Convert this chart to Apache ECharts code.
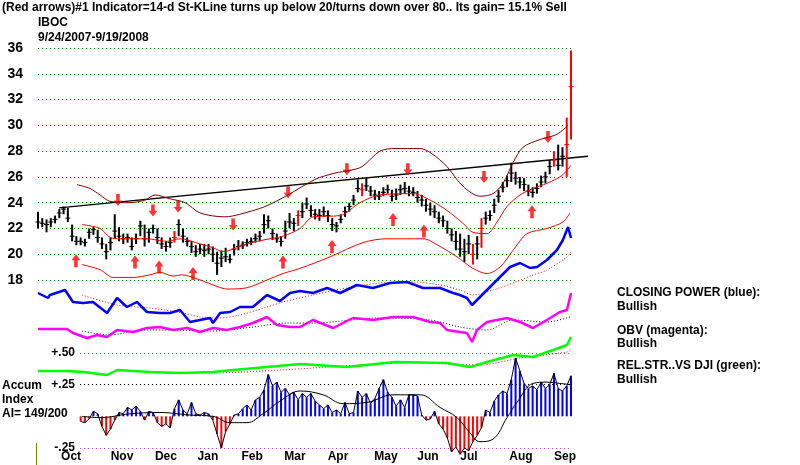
<!DOCTYPE html>
<html>
<head>
<meta charset="utf-8">
<title>IBOC</title>
<script src="https://cdn.jsdelivr.net/npm/echarts@6/dist/echarts.min.js"></script>
<style>
  html, body { margin: 0; padding: 0; background: #fff; }
  #chart { width: 800px; height: 465px; }
</style>
</head>
<body>
<div id="chart"></div>
<script>
// price bars, one every 2 trading days (day = 2 * i), 9/24/2007 .. 9/19/2008
const closes = [22.5, 22.4, 22.3, 22.5, 22.7, 23.2, 23.5, 22.8, 21.4, 21.0, 21.0, 20.9, 21.7, 21.9, 21.3, 20.8, 20.2, 20.9, 21.8, 21.4,
  21.2, 21.3, 20.6, 21.2, 22.2, 21.2, 21.7, 22.0, 21.3, 20.8, 20.6, 20.9, 21.3, 22.3, 21.4, 21.0, 20.6, 20.2, 20.4, 20.3,
  20.4, 20.0, 19.3, 19.7, 19.8, 19.6, 20.4, 20.6, 20.7, 20.9, 21.0, 21.2, 21.4, 22.3, 22.6, 21.6, 21.2, 21.0, 21.8, 22.5,
  22.4, 23.0, 23.3, 23.9, 23.4, 23.1, 23.0, 23.3, 23.0, 22.3, 22.2, 22.7, 23.3, 23.7, 24.2, 25.1, 25.0, 25.3, 24.9, 24.6,
  24.5, 24.8, 25.0, 24.5, 24.6, 25.0, 25.1, 24.9, 24.8, 24.4, 24.2, 23.8, 23.5, 23.3, 22.8, 22.6, 22.0, 21.5, 21.0, 20.4,
  20.2, 20.8, 20.0, 20.8, 22.0, 22.8, 23.0, 23.8, 24.5, 25.2, 25.7, 26.3, 25.9, 25.6, 25.4, 24.9, 24.8, 25.1, 25.6, 26.0,
  26.8, 27.3, 26.9, 27.6, 28.5, 33.0]
const highs = [23.3, 22.8, 22.7, 22.8, 23.0, 23.5, 23.7, 23.6, 22.3, 21.4, 21.3, 21.2, 22.0, 22.1, 21.9, 21.3, 20.8, 21.3, 23.1, 22.1,
  21.6, 21.6, 21.3, 21.6, 22.6, 22.3, 22.0, 22.3, 22.0, 21.3, 21.0, 21.3, 21.8, 22.7, 22.0, 21.3, 21.0, 20.7, 20.8, 20.8,
  20.8, 20.6, 20.2, 20.3, 20.5, 20.0, 20.8, 21.1, 21.0, 21.2, 21.3, 21.6, 21.8, 23.1, 23.0, 22.0, 21.6, 21.4, 22.6, 23.2,
  22.8, 23.4, 24.0, 24.4, 23.8, 23.5, 23.5, 23.7, 23.4, 22.8, 22.5, 23.1, 23.7, 24.0, 24.6, 25.8, 25.5, 25.9, 25.3, 25.0,
  24.9, 25.2, 25.4, 25.0, 25.1, 25.4, 25.6, 25.3, 25.2, 24.9, 24.6, 24.3, 24.0, 23.8, 23.3, 23.0, 22.6, 22.0, 21.8, 21.6,
  21.2, 21.5, 20.8, 21.4, 22.8, 23.3, 23.4, 24.3, 25.0, 25.6, 26.1, 27.1, 26.4, 26.0, 25.9, 25.4, 25.2, 25.5, 26.1, 26.4,
  27.3, 28.0, 28.5, 28.3, 30.6, 35.8]
const lows = [22.0, 22.1, 21.7, 22.1, 22.4, 22.8, 23.1, 22.5, 21.0, 20.7, 20.7, 20.6, 21.2, 21.5, 20.9, 20.4, 19.6, 20.3, 21.2, 21.0,
  20.8, 20.9, 20.3, 20.8, 21.4, 20.6, 20.9, 21.6, 20.8, 20.4, 20.2, 20.5, 20.9, 21.4, 20.9, 20.6, 20.1, 19.8, 20.0, 19.8,
  20.0, 19.4, 18.4, 19.0, 19.4, 19.3, 19.9, 20.3, 20.4, 20.6, 20.7, 20.9, 21.0, 21.6, 22.0, 21.1, 20.9, 20.6, 21.2, 22.0,
  21.8, 22.2, 22.8, 23.5, 22.9, 22.7, 22.6, 22.9, 22.5, 21.8, 21.7, 22.4, 22.9, 23.3, 23.8, 24.8, 24.5, 24.9, 24.5, 24.2,
  24.2, 24.5, 24.7, 24.1, 24.2, 24.6, 24.7, 24.5, 24.5, 24.0, 23.7, 23.3, 23.0, 22.8, 22.4, 22.1, 21.6, 21.0, 20.3, 19.8,
  19.4, 20.0, 19.2, 19.6, 20.5, 22.3, 22.6, 23.2, 24.0, 24.8, 25.2, 25.6, 25.4, 25.1, 24.9, 24.5, 24.4, 24.7, 25.2, 25.5,
  26.2, 26.8, 26.5, 26.8, 26.0, 28.9]
const redBars = [32, 61, 76, 102, 104, 121, 124, 125]

// bands and trend line, [day, price]
const upperBand = [[18.3, 25.4], [24.4, 25.1], [29.1, 24.6], [33.8, 24.1], [43.2, 24.0], [50.2, 24.2], [54.9, 24.6], [61.9, 24.3],
  [69, 24.0], [76, 23.2], [87.7, 22.9], [94.7, 23.1], [106.5, 23.7], [117.3, 24.6], [129.9, 25.8], [139.3, 26.3], [146.3, 26.5],
  [152, 26.8], [160.4, 28.0], [167.4, 28.2], [179.2, 28.2], [184.8, 27.8], [191.8, 26.8], [196.5, 25.8], [201.2, 25.0],
  [207.3, 24.5], [213.4, 24.7], [218.1, 25.5], [222.8, 27.1], [227.5, 28.3], [235.5, 28.9], [243.4, 29.3], [248.6, 30.0]]
const midLine = [[20.6, 22.3], [29.1, 22.0], [33.8, 21.3], [38.5, 21.2], [51.1, 21.2], [60.5, 21.0], [66.6, 21.2], [76, 20.8],
  [82.1, 20.5], [86.8, 20.2], [91.5, 20.4], [98, 20.8], [105.5, 21.1], [114.9, 21.4], [122.9, 22.0], [129, 22.9], [141.7, 23.0],
  [151, 24.0], [160.4, 24.6], [175.9, 24.7], [183.9, 24.2], [191.8, 23.4], [199.3, 22.4], [204, 21.7], [210.6, 21.6],
  [215.3, 22.5], [220, 23.7], [226.1, 24.6], [232.2, 25.1], [238.7, 25.5], [245.7, 26.1], [250, 26.9]]
const lowerBand = [[20.6, 19.2], [29.1, 18.8], [35.2, 18.2], [44.6, 18.2], [52.5, 18.4], [57.2, 18.6], [63.3, 18.3], [67.5, 18.4],
  [76, 18.0], [84, 17.5], [88.6, 17.3], [98, 17.4], [107.4, 18.0], [114.9, 18.5], [122.9, 18.9], [137, 19.8], [152.4, 20.9],
  [163.7, 21.2], [180.6, 21.2], [188.6, 20.6], [196.5, 19.8], [204, 18.9], [210.6, 18.5], [216.7, 19.0], [222.8, 20.3],
  [229.4, 21.6], [238.7, 22.0], [246.2, 22.5], [249.5, 23.2]]
// start day, start price, end day, end price (runs past the last bar)
const trendLine = [9.85, 23.6, 258, 27.6]

const upArrows = [[17.8, 19.5], [45.5, 19.4], [56.8, 19.0], [72.7, 18.5], [114.9, 19.4], [137.9, 20.6], [166.5, 22.7], [181, 21.8], [231.7, 23.3]]
const downArrows = [[37.5, 24.2], [53.9, 23.4], [65.7, 23.7], [91.5, 22.3], [117.3, 24.8], [144.9, 26.6], [173.5, 26.6], [209.2, 26.0], [239.2, 29.1]]

// lower panel lines (unscaled indicator units), [day, value]
const closingPower = [[0, 53.5], [4.7, 51], [5.6, 52.5], [12.7, 55], [16.4, 49], [21.1, 48.5], [25.8, 49], [32.4, 43.5], [37.1, 51],
  [41.7, 46.5], [46.4, 49], [51.1, 44], [57.2, 43.5], [61.9, 43.5], [66.6, 45], [71.3, 39], [76, 40], [80.7, 41], [82.1, 38.5],
  [85.4, 43.5], [90.1, 44], [94.7, 46.5], [100.8, 46.5], [107.4, 52.5], [113.5, 49.5], [118.2, 53.5], [122.9, 54.5], [129, 53.5],
  [135.6, 56], [141.7, 53.5], [149.6, 57.5], [157.1, 56], [165.1, 58.5], [173.1, 59], [180.6, 56], [188.6, 56], [194.7, 53.5],
  [197.9, 52.5], [201.2, 51], [203.6, 47.5], [207.3, 51.5], [212, 56.5], [215.3, 60], [221.4, 66.5], [226.1, 68.5], [230.8, 66],
  [234.1, 66.5], [238.7, 70], [243.4, 75], [246.2, 80], [248.6, 86.5], [250, 81]]
const closingPowerMa = [[20.6, 52.5], [37.1, 47.5], [52.5, 46], [68, 43.5], [76, 41.5], [84, 41], [94.7, 42.5], [107.4, 46.5],
  [114.9, 49], [129, 52.5], [144.9, 56], [160.4, 58.5], [175.9, 59], [188.6, 57.5], [197.9, 55], [204, 52.5], [213.4, 55],
  [222.8, 58.5], [232.2, 62.5], [238.7, 65], [248.1, 71.5], [250, 74]]
const obv = [[0, 35.5], [13.6, 35.5], [16.4, 33.5], [23, 31], [27.7, 32.5], [32.4, 31.5], [37.1, 35], [44.6, 34], [51.1, 36],
  [57.2, 36.5], [63.3, 35], [69.9, 36], [76, 34], [82.1, 36], [88.6, 35], [94.7, 36.5], [100.8, 38.5], [107.4, 41.5], [112.1, 37.5],
  [118.2, 36.5], [122.9, 36.5], [129, 40], [138.4, 36], [147.7, 41], [157.1, 40], [166.5, 41.5], [175.9, 41.5], [183.9, 39],
  [188.6, 38.5], [191.8, 35], [197.9, 34], [201.2, 33.5], [203.6, 29], [205.9, 35], [210.6, 39], [220, 41], [226.1, 39],
  [232.2, 36], [238.7, 40], [244.8, 44], [248.1, 45], [250, 53.5]]
const obvMa = [[20.6, 34.5], [33.8, 32.5], [49.2, 35], [65.2, 35], [82.1, 34.5], [100.8, 36.5], [116.8, 38.5], [129, 38.5],
  [160.4, 41], [183.9, 40], [197.9, 36.5], [210.6, 35], [222.8, 40], [238.7, 39], [249.5, 41.5]]
const relStrength = [[0, 14.5], [13.6, 14.5], [21.1, 14], [32.4, 12.5], [37.1, 15], [52.5, 14], [66.6, 13.5], [82.1, 14],
  [91.5, 15], [107.4, 16.5], [122.9, 18], [144.9, 16.5], [167.4, 19], [191.8, 18.5], [202.6, 16.5], [210.6, 19], [222.8, 22.5],
  [232.2, 21.5], [241.6, 25], [248.1, 27.5], [250, 31.5]]
const relStrengthMa = [[50.2, 14], [82.1, 13.5], [113.5, 15], [175.9, 18.5], [207.3, 17.5], [226.1, 21], [248.1, 24], [250, 25]]

// accumulation index, one value every 2 trading days from day 20
const aiStart = 20
const accumIndex = [-0.04, -0.05, -0.02, 0.04, 0.02, -0.08, -0.15, -0.10, -0.03, 0.03, 0.02, 0.07, 0.05, 0.08, 0.04, -0.03,
  0.04, 0.03, -0.05, -0.08, -0.06, -0.09, 0.06, 0.13, 0.05, 0.02, 0.11, 0.02, 0.01, 0.03, 0.02, -0.03, -0.14, -0.25, -0.12,
  -0.06, 0.01, 0.02, 0.06, 0.09, 0.05, 0.13, 0.15, 0.21, 0.33, 0.24, 0.27, 0.19, 0.22, 0.17, 0.19, 0.13, 0.18, 0.15, 0.18,
  0.12, 0.09, 0.06, 0.09, 0.03, 0.05, 0.02, 0.11, 0.02, 0.03, 0.20, 0.15, 0.18, 0.10, 0.14, 0.22, 0.29, 0.19, 0.15, 0.08,
  0.13, 0.07, 0.17, 0.17, 0.16, 0.01, -0.03, -0.02, 0.04, -0.06, -0.10, -0.17, -0.28, -0.24, -0.30, -0.25, -0.27, -0.20,
  -0.15, -0.09, 0.05, 0.03, 0.12, 0.17, 0.20, 0.18, 0.29, 0.46, 0.36, 0.26, 0.22, 0.24, 0.21, 0.27, 0.22, 0.25, 0.34, 0.22,
  0.20, 0.24, 0.32]
const accumIndexMa = [[20.6, 0.0], [29.1, -0.01], [43.2, 0.02], [57.2, 0.03], [71.3, 0.01], [82.1, 0.0], [90.1, -0.05],
  [98, -0.05], [105.5, 0.02], [113.5, 0.12], [122.9, 0.2], [133.7, 0.17], [143.1, 0.10], [154.3, 0.11], [166.5, 0.17],
  [179.2, 0.17], [188.6, 0.07], [196.5, -0.01], [202.6, -0.13], [207.3, -0.2], [213.4, -0.18], [220, -0.01], [224.7, 0.11],
  [232.2, 0.26], [238.7, 0.27], [244.8, 0.26], [250, 0.25]]

const monthNames = ['Oct', 'Nov', 'Dec', 'Jan', 'Feb', 'Mar', 'Apr', 'May', 'Jun', 'Jul', 'Aug', 'Sep']
const monthDays = [15.5, 39.4, 60.0, 79.7, 100.4, 120.5, 140.7, 163.2, 182.9, 202.1, 226.5, 247.2]
const aiLabels = { '0.5': '+.50', '0.25': '+.25', '-0.25': '-.25' }

const FONT = 'Liberation Sans, Arial, sans-serif'
const chart = echarts.init(document.getElementById('chart'))

const priceBars = closes.map((c, i) => [i * 2, highs[i], lows[i], c])
const aiData = accumIndex.map((v, i) => [aiStart + i * 2, v])

function lineSeries(data, axis, color, width, type, smooth) {
  return {
    type: 'line', xAxisIndex: axis, yAxisIndex: axis, data: data,
    showSymbol: false, symbol: 'none', smooth: smooth || false, clip: false, silent: true,
    lineStyle: { color: color, width: width, type: type || 'solid' }
  }
}

const option = {
  animation: false,
  backgroundColor: '#fff',
  grid: [
    { left: 38, top: 48, width: 533, height: 232 },
    { left: 38, top: 200, width: 533, height: 248 },
    { left: 80, top: 353, width: 491, height: 95 }
  ],
  xAxis: [
    { gridIndex: 0, type: 'value', min: 0, max: 250, show: false },
    {
      gridIndex: 1, type: 'value', min: 0, max: 250,
      axisLine: { show: false }, axisTick: { show: false }, splitLine: { show: false },
      axisLabel: {
        customValues: monthDays, margin: 3, color: '#000',
        fontFamily: FONT, fontWeight: 'bold', fontSize: 12,
        formatter: v => monthNames[monthDays.findIndex(m => Math.abs(m - v) < 0.01)] || ''
      }
    },
    { gridIndex: 2, type: 'value', min: 19.7, max: 250, show: false }
  ],
  yAxis: [
    {
      gridIndex: 0, type: 'value', min: 18, max: 36, interval: 2,
      axisLine: { show: false }, axisTick: { show: false },
      axisLabel: { margin: 15, color: '#000', fontFamily: FONT, fontWeight: 'bold', fontSize: 14 },
      splitLine: { lineStyle: { color: '#008000', type: [1, 3], width: 1 } }
    },
    { gridIndex: 1, type: 'value', min: -24, max: 100, show: false },
    {
      gridIndex: 2, type: 'value', min: -0.25, max: 0.5, interval: 0.25,
      axisLine: { show: false }, axisTick: { show: false },
      axisLabel: {
        margin: 5, color: '#000', fontFamily: FONT, fontWeight: 'bold', fontSize: 12,
        formatter: v => aiLabels[String(v)] || ''
      },
      splitLine: { lineStyle: { color: ['#cc33cc', 'rgba(0,0,0,0)', '#000', '#cc33cc'], type: [1, 3], width: 1 } }
    }
  ],
  series: [
    lineSeries(upperBand, 0, '#800000', 1, 'solid', 0.3),
    lineSeries(midLine, 0, '#ff0000', 1, 'solid', 0.3),
    lineSeries(lowerBand, 0, '#ff0000', 1, 'solid', 0.3),
    {
      type: 'custom', xAxisIndex: 0, yAxisIndex: 0, data: [trendLine], clip: false, silent: true,
      renderItem: (params, api) => {
        const a = api.coord([api.value(0), api.value(1)])
        const b = api.coord([api.value(2), api.value(3)])
        return { type: 'line', shape: { x1: a[0], y1: a[1], x2: b[0], y2: b[1] }, style: { stroke: '#000', lineWidth: 1.3 } }
      }
    },
    {
      type: 'custom', xAxisIndex: 0, yAxisIndex: 0, data: priceBars, clip: false, silent: true,
      renderItem: (params, api) => {
        const d = api.value(0)
        const top = api.coord([d, api.value(1)])
        const bot = api.coord([d, api.value(2)])
        const c = api.coord([d, api.value(3)])
        const color = redBars.includes(params.dataIndex) ? '#ff0000' : '#000'
        return {
          type: 'group', children: [
            { type: 'line', shape: { x1: top[0], y1: top[1], x2: bot[0], y2: bot[1] }, style: { stroke: color, lineWidth: 2 } },
            { type: 'line', shape: { x1: c[0] - 2.5, y1: c[1], x2: c[0] + 2.5, y2: c[1] }, style: { stroke: color, lineWidth: 1 } }
          ]
        }
      }
    },
    {
      type: 'scatter', xAxisIndex: 0, yAxisIndex: 0, data: upArrows, silent: true,
      symbol: 'path://M5,0L10,6L7,6L7,13L3,13L3,6L0,6Z', symbolSize: [9, 13],
      itemStyle: { color: '#ff0000' }
    },
    {
      type: 'scatter', xAxisIndex: 0, yAxisIndex: 0, data: downArrows, silent: true,
      symbol: 'path://M3,0L7,0L7,7L10,7L5,13L0,7L3,7Z', symbolSize: [9, 12],
      itemStyle: { color: '#ff0000' }
    },
    lineSeries(closingPowerMa, 1, '#ff0000', 1, [1, 2], 0.3),
    lineSeries(closingPower, 1, '#0000ff', 2.5),
    lineSeries(obvMa, 1, '#000', 1, [1, 2], 0.3),
    lineSeries(obv, 1, '#ff00ff', 2.5),
    lineSeries(relStrengthMa, 1, '#ff0000', 1, [1, 2], 0.3),
    lineSeries(relStrength, 1, '#00ff00', 2.5),
    {
      type: 'custom', xAxisIndex: 2, yAxisIndex: 2, data: aiData, silent: true,
      renderItem: (params, api) => {
        const d = api.value(0), v = api.value(1)
        const p0 = api.coord([d, 0]), p1 = api.coord([d, v])
        return {
          type: 'line', shape: { x1: p0[0], y1: p0[1], x2: p1[0], y2: p1[1] },
          style: { stroke: v >= 0 ? '#0000ff' : '#ff0000', lineWidth: 2 }
        }
      }
    },
    lineSeries(aiData, 2, '#000', 1),
    lineSeries(accumIndexMa, 2, '#000', 1, 'solid', 0.4)
  ],
  graphic: [
    { type: 'text', left: 2, top: 2, style: { text: '(Red arrows)#1 Indicator=14-d St-KLine turns up below 20/turns down over 80.. Its gain= 15.1% Sell', font: 'bold 12px ' + FONT, fill: '#000' } },
    { type: 'text', left: 38, top: 17, style: { text: 'IBOC', font: 'bold 12px ' + FONT, fill: '#000' } },
    { type: 'text', left: 38, top: 32, style: { text: '9/24/2007-9/19/2008', font: 'bold 12px ' + FONT, fill: '#000' } },
    { type: 'text', left: 2, top: 380, style: { text: 'Accum', font: 'bold 12px ' + FONT, fill: '#000' } },
    { type: 'text', left: 2, top: 394, style: { text: 'Index', font: 'bold 12px ' + FONT, fill: '#000' } },
    { type: 'text', left: 2, top: 408, style: { text: 'AI= 149/200', font: 'bold 12px ' + FONT, fill: '#000' } },
    { type: 'text', left: 617, top: 287, style: { text: 'CLOSING POWER (blue):', font: 'bold 12px ' + FONT, fill: '#000' } },
    { type: 'text', left: 617, top: 301, style: { text: 'Bullish', font: 'bold 12px ' + FONT, fill: '#000' } },
    { type: 'text', left: 617, top: 325, style: { text: 'OBV (magenta):', font: 'bold 12px ' + FONT, fill: '#000' } },
    { type: 'text', left: 617, top: 338, style: { text: 'Bullish', font: 'bold 12px ' + FONT, fill: '#000' } },
    { type: 'text', left: 617, top: 360, style: { text: 'REL.STR..VS DJI (green):', font: 'bold 12px ' + FONT, fill: '#000' } },
    { type: 'text', left: 617, top: 374, style: { text: 'Bullish', font: 'bold 12px ' + FONT, fill: '#000' } },
    { type: 'rect', left: 36, top: 443, shape: { width: 1, height: 22 }, style: { fill: '#808000' } }
  ]
}

chart.setOption(option)
</script>
</body>
</html>
